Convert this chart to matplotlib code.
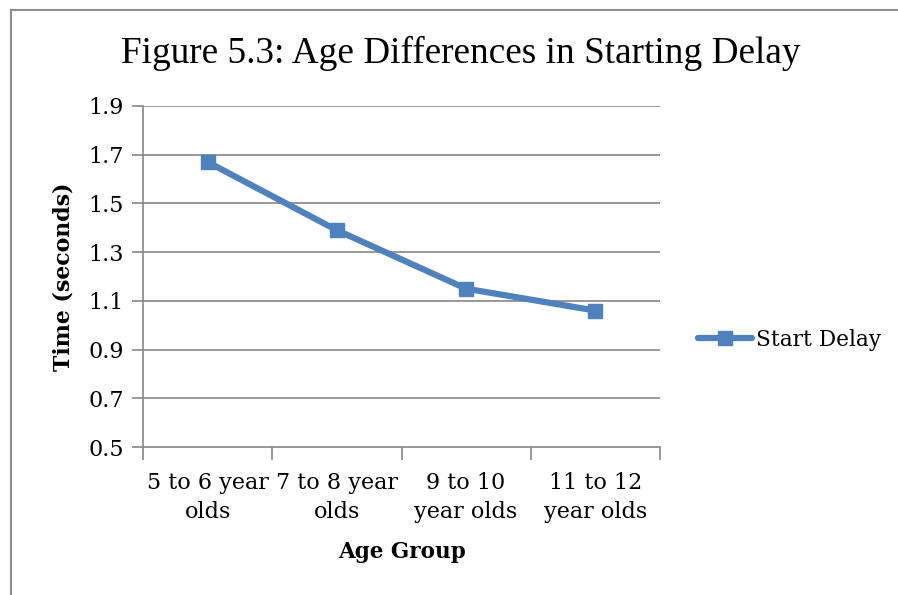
import matplotlib
matplotlib.use("Agg")
import matplotlib.pyplot as plt
from matplotlib.lines import Line2D
import numpy as np

categories = ["5 to 6 year\nolds", "7 to 8 year\nolds", "9 to 10\nyear olds", "11 to 12\nyear olds"]
start_delay = [1.67, 1.39, 1.15, 1.06]
y_ticks = [0.5, 0.7, 0.9, 1.1, 1.3, 1.5, 1.7, 1.9]

W, H = 898, 595
fig = plt.figure(figsize=(W / 100, H / 100), dpi=100)
fig.patch.set_facecolor("white")

# chart frame (left and top edges)
frame = "#8c8c8c"
fig.add_artist(Line2D([11 / W, 11 / W], [0, 1 - 10 / H], color=frame, lw=1.5, transform=fig.transFigure))
fig.add_artist(Line2D([11 / W, 1], [1 - 10 / H, 1 - 10 / H], color=frame, lw=1.5, transform=fig.transFigure))

left, right, top, bottom = 143, 660, 106, 447
ax = fig.add_axes([left / W, 1 - bottom / H, (right - left) / W, (bottom - top) / H])

grid = "#868686"
x = np.arange(len(categories))
line_color = "#4F81BD"
ax.plot(x, start_delay, color=line_color, lw=4.5, marker="s", markersize=10.5,
        solid_capstyle="round", label="Start Delay", clip_on=False)

ax.set_xlim(-0.5, len(categories) - 0.5)
ax.set_ylim(0.5, 1.9)
ax.set_yticks(y_ticks)
ax.set_yticklabels([f"{v:.1f}" for v in y_ticks])
for v in y_ticks[1:]:
    ax.axhline(v, color=grid, lw=1.2, zorder=0)

ax.set_xticks(x)
ax.set_xticklabels(categories)
ax.set_xticks(np.arange(-0.5, len(categories), 1), minor=True)
ax.tick_params(axis="x", which="major", length=0, pad=18)
ax.tick_params(axis="x", which="minor", length=9, width=1.2, color=grid, direction="out")
ax.tick_params(axis="y", length=8, width=1.2, color=grid, direction="out", pad=6)

for s in ["top", "right"]:
    ax.spines[s].set_visible(False)
for s in ["left", "bottom"]:
    ax.spines[s].set_color(grid)
    ax.spines[s].set_linewidth(1.2)

for lbl in ax.get_xticklabels() + ax.get_yticklabels():
    lbl.set_fontfamily("DejaVu Serif")
    lbl.set_fontsize(16)
for lbl in ax.get_xticklabels():
    lbl.set_linespacing(1.42)

ax.set_xlabel("Age Group", fontfamily="DejaVu Serif", fontweight="bold", fontsize=15.5, labelpad=13)
ax.set_ylabel("Time (seconds)", fontfamily="DejaVu Serif", fontweight="bold", fontsize=15.8, labelpad=10)

fig.text(461 / W, 1 - 53 / H, "Figure 5.3: Age Differences in Starting Delay",
         fontfamily="Liberation Serif", fontsize=26.8, ha="center", va="center")

leg = ax.legend(loc="center left", bbox_to_anchor=((698 - left) / (right - left), (bottom - 340) / (bottom - top)),
                frameon=False, prop={"family": "DejaVu Serif", "size": 15.6},
                handlelength=2.5, handletextpad=0.2, borderaxespad=0, borderpad=0)

fig.savefig("out.png", dpi=100, facecolor="white")
